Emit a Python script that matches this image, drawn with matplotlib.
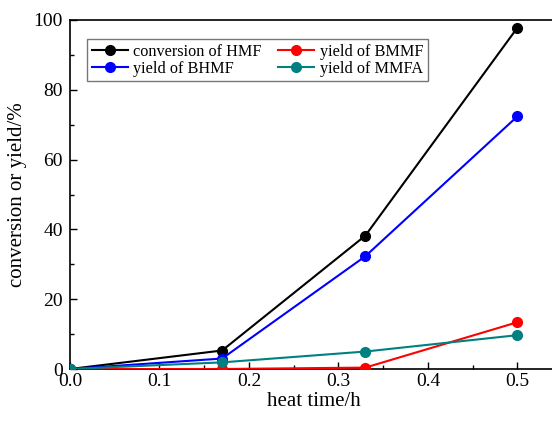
import matplotlib
matplotlib.use("Agg")
import matplotlib.pyplot as plt
from matplotlib.ticker import MultipleLocator

plt.rcParams['font.family'] = ['Liberation Serif', 'DejaVu Serif']
plt.rcParams['mathtext.fontset'] = 'stix'

time_h = [0.0, 0.17, 0.33, 0.5]
conv_hmf = [0.0, 5.3, 38.2, 97.8]
yield_bhmf = [0.0, 3.0, 32.3, 72.4]
yield_bmmf = [0.0, 0.0, 0.4, 13.4]
yield_mmfa = [0.0, 1.9, 5.0, 9.7]

labels = ["conversion of HMF", "yield of BHMF", "yield of BMMF", "yield of MMFA"]
colors = ["black", "#0000ff", "#ff0000", "#008080"]

fig = plt.figure(figsize=(5.52, 4.21), dpi=100)
L, B, T = 70, 369, 20
ax = fig.add_axes([L/552, (421-B)/421, 1 - L/552 + 0.01, (B-T)/421])

series = [conv_hmf, yield_bhmf, yield_bmmf, yield_mmfa]
handles = []
for s, lab, c in zip(series, labels, colors):
    h, = ax.plot(time_h, s, '-o', color=c, lw=1.5, ms=7, label=lab, zorder=3)
    handles.append(h)

ax.set_xlim(0, 0.5448)
ax.set_ylim(0, 100)
ax.xaxis.set_major_locator(MultipleLocator(0.1))
ax.xaxis.set_minor_locator(MultipleLocator(0.05))
ax.yaxis.set_major_locator(MultipleLocator(20))
ax.yaxis.set_minor_locator(MultipleLocator(10))
ax.tick_params(which='both', direction='in', top=False, right=False, labelsize=14, width=1)
ax.tick_params(which='major', length=5, pad=3)
ax.tick_params(axis='y', which='major', pad=5)
ax.tick_params(which='minor', length=3)
ax.spines['right'].set_visible(False)
for sp in ['left', 'bottom', 'top']:
    ax.spines[sp].set_linewidth(1.2)

ax.set_xlabel("heat time/h", fontsize=15, labelpad=1)
ax.set_ylabel("conversion or yield/%", fontsize=15, labelpad=5)

leg = ax.legend(handles=handles, ncol=2, loc='upper left',
                bbox_to_anchor=(0.035, 0.946),
                fontsize=11.7, frameon=True, fancybox=False, edgecolor='#555555',
                handlelength=2.2, handletextpad=0.35, columnspacing=1.0,
                borderpad=0.3, labelspacing=0.05, borderaxespad=0)
leg.get_frame().set_linewidth(1.0)

fig.savefig("out.png", dpi=100)
